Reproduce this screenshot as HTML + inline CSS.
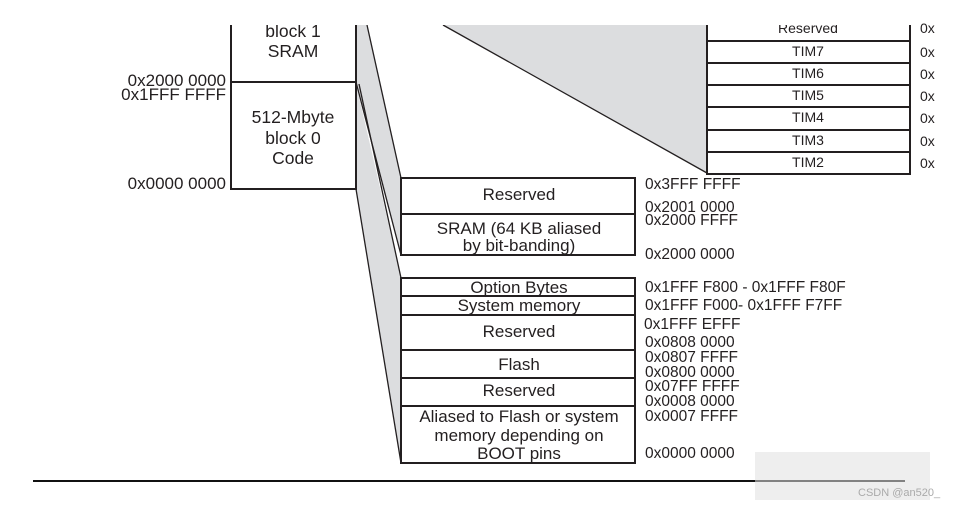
<!DOCTYPE html>
<html><head><meta charset="utf-8"><style>
html,body{margin:0;padding:0;background:#fff;}
svg{display:block;}
text{font-family:"Liberation Sans",sans-serif;fill:#231f20;}
</style></head><body>
<svg width="957" height="507" viewBox="0 0 957 507" xmlns="http://www.w3.org/2000/svg">
<rect width="957" height="507" fill="#fff"/>
<polygon points="356,25 367,25 401,178 401,255 356,82" fill="#dcdddf"/>
<polygon points="356,84 401,278 401,463 356,189" fill="#dcdddf"/>
<polygon points="443,25 707,25 707,173" fill="#dcdddf"/>
<g stroke="#231f20" stroke-width="1.3" fill="none">
<line x1="367" y1="25" x2="401" y2="178"/>
<line x1="356" y1="82" x2="401" y2="255"/>
<line x1="359" y1="84" x2="401" y2="278"/>
<line x1="356" y1="189" x2="401" y2="463"/>
<line x1="443" y1="25" x2="707" y2="173"/>
</g>
<g stroke="#231f20" stroke-width="2" fill="#fff">
<path d="M231,25 V189 H356 V25"/>
<line x1="231" y1="82" x2="356" y2="82"/>
</g>
<g font-size="17.5" text-anchor="middle">
<text x="293" y="37">block 1</text>
<text x="293" y="57">SRAM</text>
<text x="293" y="123">512-Mbyte</text>
<text x="293" y="144">block 0</text>
<text x="293" y="164">Code</text>
</g>
<g font-size="17" text-anchor="end">
<text x="226" y="86">0x2000 0000</text>
<text x="226" y="100">0x1FFF FFFF</text>
<text x="226" y="189">0x0000 0000</text>
</g>
<g stroke="#231f20" stroke-width="2" fill="#fff">
<path d="M707,25 V174 H910 V25"/>
<line x1="707" y1="41" x2="910" y2="41"/>
<line x1="707" y1="63" x2="910" y2="63"/>
<line x1="707" y1="85" x2="910" y2="85"/>
<line x1="707" y1="107" x2="910" y2="107"/>
<line x1="707" y1="130" x2="910" y2="130"/>
<line x1="707" y1="152" x2="910" y2="152"/>
</g>
<g font-size="14" text-anchor="middle">
<text x="808" y="56">TIM7</text>
<text x="808" y="78">TIM6</text>
<text x="808" y="100">TIM5</text>
<text x="808" y="122">TIM4</text>
<text x="808" y="145">TIM3</text>
<text x="808" y="167">TIM2</text>
<text x="808" y="33">Reserved</text>
</g>
<rect x="0" y="0" width="957" height="25" fill="#fff"/>
<g font-size="14">
<text x="920" y="33">0x</text>
<text x="920" y="57">0x</text>
<text x="920" y="79">0x</text>
<text x="920" y="101">0x</text>
<text x="920" y="123">0x</text>
<text x="920" y="146">0x</text>
<text x="920" y="168">0x</text>
</g>
<g stroke="#231f20" stroke-width="2" fill="#fff">
<rect x="401" y="178" width="234" height="36"/>
<rect x="401" y="214" width="234" height="41"/>
<rect x="401" y="278" width="234" height="18"/>
<rect x="401" y="296" width="234" height="19"/>
<rect x="401" y="315" width="234" height="35"/>
<rect x="401" y="350" width="234" height="28"/>
<rect x="401" y="378" width="234" height="28"/>
<rect x="401" y="406" width="234" height="57"/>
</g>
<g font-size="17" text-anchor="middle">
<text x="519" y="200">Reserved</text>
<text x="519" y="234">SRAM (64 KB aliased</text>
<text x="519" y="251">by bit-banding)</text>
<text x="519" y="293">Option Bytes</text>
<text x="519" y="311">System memory</text>
<text x="519" y="337">Reserved</text>
<text x="519" y="370">Flash</text>
<text x="519" y="396">Reserved</text>
<text x="519" y="422">Aliased to Flash or system</text>
<text x="519" y="441">memory depending on</text>
<text x="519" y="459">BOOT pins</text>
</g>
<g font-size="15.5">
<text x="645" y="189">0x3FFF FFFF</text>
<text x="645" y="212">0x2001 0000</text>
<text x="645" y="225">0x2000 FFFF</text>
<text x="645" y="259">0x2000 0000</text>
<text x="645" y="292">0x1FFF F800 - 0x1FFF F80F</text>
<text x="645" y="310">0x1FFF F000- 0x1FFF F7FF</text>
<text x="644" y="329">0x1FFF EFFF</text>
<text x="645" y="347">0x0808 0000</text>
<text x="645" y="362">0x0807 FFFF</text>
<text x="645" y="377">0x0800 0000</text>
<text x="645" y="391">0x07FF FFFF</text>
<text x="645" y="406">0x0008 0000</text>
<text x="645" y="421">0x0007 FFFF</text>
<text x="645" y="458">0x0000 0000</text>
</g>
<line x1="33" y1="481" x2="905" y2="481" stroke="#111" stroke-width="2"/>
<rect x="755" y="452" width="175" height="48" fill="#e0e0e0" opacity="0.55"/>
<text x="858" y="496" font-size="11" style="fill:#aaa">CSDN @an520_</text>
</svg>
</body></html>
